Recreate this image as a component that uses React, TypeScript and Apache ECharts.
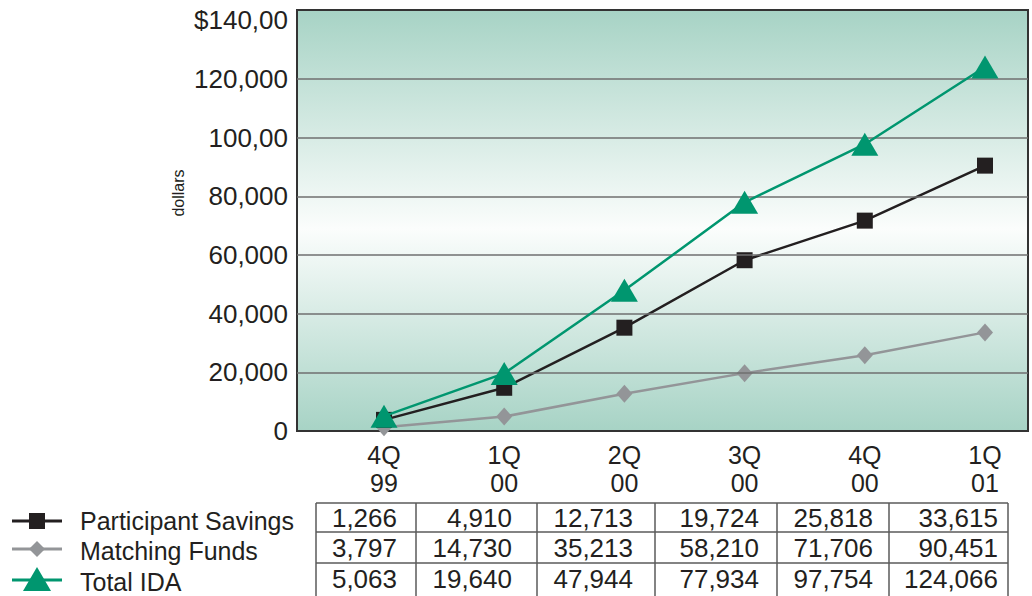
import React, { useEffect, useRef } from "react";
import * as echarts from "echarts";

// Quarter labels along the x axis
const quarters = ["4Q", "1Q", "2Q", "3Q", "4Q", "1Q"];
const years = ["99", "00", "00", "00", "00", "01"];

// Series values (dollars)
const participantSavings = [1266, 4910, 12713, 19724, 25818, 33615];
const matchingFunds = [3797, 14730, 35213, 58210, 71706, 90451];
const totalIDA = [5063, 19640, 47944, 77934, 97754, 124066];

// Y axis tick labels, one per 20,000 step
const yTickLabels = ["0", "20,000", "40,000", "60,000", "80,000", "100,00", "120,000", "$140,00"];
const gridValues = [20000, 40000, 60000, 80000, 100000, 120000];

const FONT = "'Liberation Sans', Arial, sans-serif";
const TEXT = "#231f20";
const GREEN = "#00966f";
const BLACK = "#231f20";
const GRAY = "#939598";

const Y_MAX = 143500;
const PLOT_TOP = 10;
const PLOT_H = 421;

export default function App() {
  const ref = useRef<HTMLDivElement>(null);

  useEffect(() => {
    if (!ref.current) return;
    const chart = echarts.init(ref.current, undefined, { renderer: "svg" });

    const categories = quarters.map((q, i) => q + "\n" + years[i]);

    // Data table below the chart
    const colEdges = [316, 416, 537, 655, 777, 889, 1008];
    const rowEdges = [503, 532, 563];
    const rowCenters = [518, 548, 579];
    const valueRight = [397, 512, 633, 759, 873, 998];
    const rows = [
      { name: "Participant Savings", values: participantSavings, key: "square" },
      { name: "Matching Funds", values: matchingFunds, key: "diamond" },
      { name: "Total IDA", values: totalIDA, key: "triangle" },
    ];

    const graphics: any[] = [];
    const tableLine = { stroke: "#5a5a5a", lineWidth: 1.5 };
    rowEdges.forEach((y) => {
      graphics.push({
        type: "line",
        shape: { x1: colEdges[0], y1: y, x2: colEdges[colEdges.length - 1], y2: y },
        style: tableLine,
      });
    });
    colEdges.forEach((x) => {
      graphics.push({
        type: "line",
        shape: { x1: x, y1: rowEdges[0], x2: x, y2: 600 },
        style: tableLine,
      });
    });
    rows.forEach((row, r) => {
      const cy = rowCenters[r];
      row.values.forEach((v, c) => {
        graphics.push({
          type: "text",
          x: valueRight[c],
          y: cy,
          style: {
            text: v.toLocaleString("en-US"),
            font: `26px ${FONT}`,
            fill: TEXT,
            align: "right",
            verticalAlign: "middle",
          },
        });
      });
      // legend key and label
      const keyY = [521, 549, 580][r];
      const keyColor = row.key === "square" ? BLACK : row.key === "diamond" ? GRAY : GREEN;
      graphics.push({
        type: "line",
        shape: { x1: 12, y1: keyY, x2: 62, y2: keyY },
        style: { stroke: keyColor, lineWidth: 3 },
      });
      if (row.key === "square") {
        graphics.push({
          type: "rect",
          shape: { x: 29, y: keyY - 8, width: 16, height: 16 },
          style: { fill: BLACK },
        });
      } else if (row.key === "diamond") {
        graphics.push({
          type: "polygon",
          shape: { points: [[37, keyY - 8], [45, keyY], [37, keyY + 8], [29, keyY]] },
          style: { fill: GRAY },
        });
      } else {
        graphics.push({
          type: "polygon",
          shape: { points: [[37, keyY - 13], [51, keyY + 11], [23, keyY + 11]] },
          style: { fill: GREEN },
        });
      }
      graphics.push({
        type: "text",
        x: 80,
        y: rowCenters[r] + 3,
        style: {
          text: row.name,
          font: `25px ${FONT}`,
          fill: TEXT,
          align: "left",
          verticalAlign: "middle",
        },
      });
    });

    // rotated y axis title
    graphics.push({
      type: "text",
      x: 178,
      y: 193,
      rotation: Math.PI / 2,
      style: {
        text: "dollars",
        font: `16px ${FONT}`,
        fill: TEXT,
        align: "center",
        verticalAlign: "middle",
      },
    });

    const option: any = {
      animation: false,
      textStyle: { fontFamily: FONT },
      grid: [
        {
          // plot frame with gradient fill
          left: 297,
          top: PLOT_TOP,
          width: 731,
          height: PLOT_H,
          show: true,
          borderColor: "#333333",
          borderWidth: 2,
          backgroundColor: new echarts.graphic.LinearGradient(0, 0, 0, 1, [
            { offset: 0, color: "#a7d3c5" },
            { offset: 0.52, color: "#fbfdfc" },
            { offset: 1, color: "#a7d3c5" },
          ]),
        },
        {
          // first to last quarter span for the series
          left: 384,
          top: PLOT_TOP,
          width: 601,
          height: PLOT_H,
        },
      ],
      xAxis: [
        { type: "value", gridIndex: 0, min: 0, max: 1, show: false },
        {
          type: "category",
          gridIndex: 1,
          data: categories,
          boundaryGap: false,
          axisLine: { show: false },
          axisTick: { show: false },
          axisLabel: {
            fontSize: 25,
            lineHeight: 28,
            color: TEXT,
            margin: 10,
            fontFamily: FONT,
            interval: 0,
          },
        },
      ],
      yAxis: [
        {
          type: "value",
          gridIndex: 0,
          min: 0,
          max: Y_MAX,
          interval: 20000,
          axisLine: { show: false },
          axisTick: { show: false },
          splitLine: { show: false },
          axisLabel: {
            fontSize: 26,
            color: TEXT,
            margin: 9,
            fontFamily: FONT,
            formatter: (v: number) => {
              const idx = v / 20000;
              return Number.isInteger(idx) && yTickLabels[idx] !== undefined ? yTickLabels[idx] : "";
            },
          },
        },
        { type: "value", gridIndex: 1, min: 0, max: Y_MAX, show: false },
      ],
      series: [
        {
          // horizontal gridlines
          type: "line",
          xAxisIndex: 0,
          yAxisIndex: 0,
          data: [],
          z: 1,
          markLine: {
            silent: true,
            symbol: "none",
            label: { show: false },
            lineStyle: { color: "#6f6f6f", width: 1.5, type: "solid" },
            data: gridValues.map((v) => ({ yAxis: v })),
          },
        },
        {
          name: "Participant Savings",
          type: "line",
          xAxisIndex: 1,
          yAxisIndex: 1,
          data: participantSavings,
          z: 3,
          symbol: "diamond",
          symbolSize: [16, 18],
          lineStyle: { color: GRAY, width: 2.5 },
          itemStyle: { color: GRAY },
        },
        {
          name: "Matching Funds",
          type: "line",
          xAxisIndex: 1,
          yAxisIndex: 1,
          data: matchingFunds,
          z: 4,
          symbol: "rect",
          symbolSize: 16,
          lineStyle: { color: BLACK, width: 2.5 },
          itemStyle: { color: BLACK },
        },
        {
          name: "Total IDA",
          type: "line",
          xAxisIndex: 1,
          yAxisIndex: 1,
          data: totalIDA,
          z: 5,
          symbol: "triangle",
          symbolSize: [27, 23],
          lineStyle: { color: GREEN, width: 2.5 },
          itemStyle: { color: GREEN },
        },
      ],
      graphic: graphics,
    };

    chart.setOption(option);
    return () => chart.dispose();
  }, []);

  return (
    <div
      ref={ref}
      style={{ position: "fixed", left: 0, top: 0, width: 1032, height: 596, background: "#ffffff" }}
    />
  );
}
